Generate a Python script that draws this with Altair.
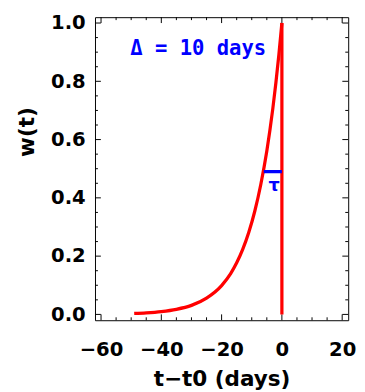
import altair as alt
import pandas as pd

# curve
t_curve = [-49, -45, -40, -35, -30, -25, -20, -17, -15, -13, -11, -9, -7, -5, -4, -3, -2, -1, 0]
w_curve = [0.0035, 0.0055, 0.0098, 0.0175, 0.031, 0.056, 0.099, 0.140, 0.177, 0.223, 0.281,
           0.354, 0.446, 0.561, 0.630, 0.707, 0.794, 0.891, 1.0]
# vertical segment at t0
t_vert = [0, 0]
w_vert = [1.0, 0.0]
# tau marker
t_tau = [-6, 0]
w_tau = [0.49, 0.49]

x_major = [-60, -40, -20, 0, 20]
x_minor = [-55, -50, -45, -35, -30, -25, -15, -10, -5, 5, 10, 15]
y_major = [0.0, 0.2, 0.4, 0.6, 0.8, 1.0]
y_minor = [0.05, 0.1, 0.15, 0.25, 0.3, 0.35, 0.45, 0.5, 0.55, 0.65, 0.7, 0.75, 0.85, 0.9, 0.95]

W, H = 259, 310
XDOM = [-62, 22]
YDOM = [-0.02, 1.02]

xaxis = alt.Axis(values=x_major, ticks=False, domain=False, grid=False, labelFont="DejaVu Sans",
                 labelFontSize=20, labelFontWeight="bold", labelColor="black", labelPadding=20,
                 labelFlush=False, title="t\u2212t0 (days)", titleFont="DejaVu Sans",
                 titleFontSize=22, titleFontWeight="bold", titleColor="black", titlePadding=10)
yaxis = alt.Axis(values=y_major, format=".1f", ticks=False, domain=False, grid=False,
                 labelFont="DejaVu Sans", labelFontSize=20, labelFontWeight="bold",
                 labelColor="black", labelPadding=10, labelFlush=False, title="w(t)",
                 titleFont="DejaVu Sans", titleFontSize=22, titleFontWeight="bold",
                 titleColor="black", titleAngle=270, titleX=-70, titleY=117,
                 titleAlign="center", titleBaseline="middle")

xs = alt.Scale(domain=XDOM, nice=False, zero=False)
ys = alt.Scale(domain=YDOM, nice=False, zero=False)


def X():
    return alt.X("t:Q", scale=xs, axis=xaxis)


def Y():
    return alt.Y("w:Q", scale=ys, axis=yaxis)


curve = alt.Chart(pd.DataFrame({"t": t_curve, "w": w_curve})).mark_line(
    color="#ff0000", strokeWidth=3.3, interpolate="monotone", clip=True
).encode(x=X(), y=Y())

vert = alt.Chart(pd.DataFrame({"t": t_vert, "w": w_vert})).mark_line(
    color="#ff0000", strokeWidth=3.3
).encode(x=X(), y=Y())

tau = alt.Chart(pd.DataFrame({"t": t_tau, "w": w_tau})).mark_line(
    color="#0000ff", strokeWidth=3.3
).encode(x=X(), y=Y())

tau_lbl = alt.Chart(pd.DataFrame({"t": [-2.6], "w": [0.442], "s": ["\u03c4"]})).mark_text(
    color="#0000ff", font="DejaVu Sans", fontSize=18, fontWeight="bold",
    align="center", baseline="middle"
).encode(x=X(), y=Y(), text="s:N")

delta_lbl = alt.Chart(pd.DataFrame({"t": [-50.3], "w": [0.889], "s": ["\u0394 = 10 days"]})).mark_text(
    color="#0000ff", font="DejaVu Sans Mono", fontSize=21, fontWeight="bold",
    align="left", baseline="alphabetic"
).encode(x=X(), y=Y(), text="s:N")

dfxM = pd.DataFrame({"t": x_major})
dfxm = pd.DataFrame({"t": x_minor})
dfyM = pd.DataFrame({"w": y_major})
dfym = pd.DataFrame({"w": y_minor})

tick_layers = []
for df, L in [(dfxM, 6), (dfxm, 3)]:
    tick_layers.append(alt.Chart(df).mark_rule(color="black", strokeWidth=1).encode(
        x=X(), y=alt.value(H), y2=alt.value(H - L)))
    tick_layers.append(alt.Chart(df).mark_rule(color="black", strokeWidth=1).encode(
        x=X(), y=alt.value(0), y2=alt.value(L)))
for df, L in [(dfyM, 6), (dfym, 3)]:
    tick_layers.append(alt.Chart(df).mark_rule(color="black", strokeWidth=1).encode(
        y=Y(), x=alt.value(0), x2=alt.value(L)))
    tick_layers.append(alt.Chart(df).mark_rule(color="black", strokeWidth=1).encode(
        y=Y(), x=alt.value(W), x2=alt.value(W - L)))

chart = alt.layer(*tick_layers, curve, vert, tau, tau_lbl, delta_lbl).properties(
    width=W, height=H,
    autosize=alt.AutoSizeParams(type="none"),
    padding={"left": 89, "top": 5, "right": 9, "bottom": 69},
    background="white",
).configure_view(stroke="black", strokeWidth=1)

chart.save("out.html", embed_options={"renderer": "svg", "actions": False})
